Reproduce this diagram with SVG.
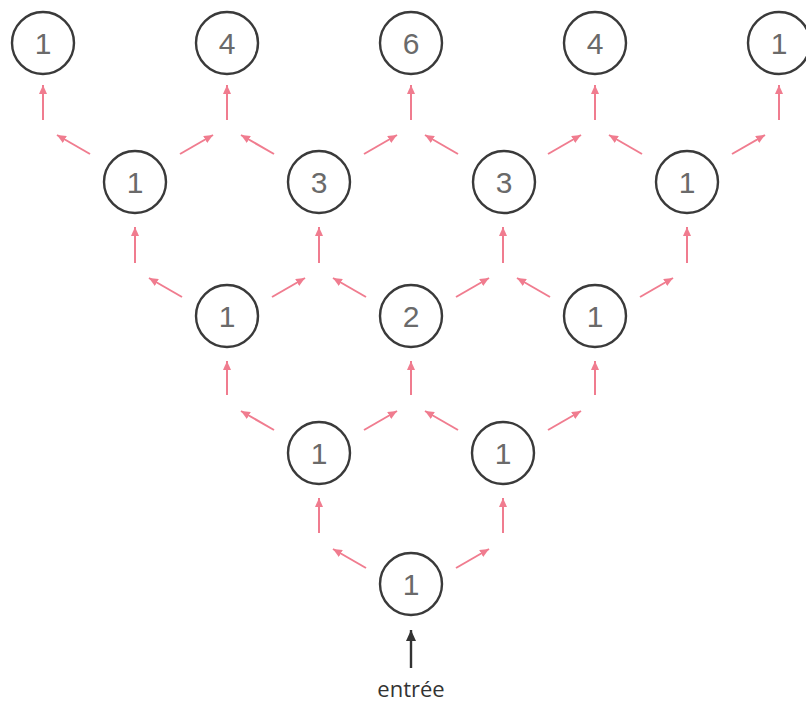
<svg xmlns="http://www.w3.org/2000/svg" width="806" height="705" viewBox="0 0 806 705">
  <defs>
    <marker id="headPink" markerUnits="userSpaceOnUse" markerWidth="10" markerHeight="8" refX="9" refY="4" orient="auto">
      <path d="M0,0 L9,4 L0,8 z" fill="#f07c8f"/>
    </marker>
    <marker id="headDark" markerUnits="userSpaceOnUse" markerWidth="12" markerHeight="10" refX="11" refY="5" orient="auto">
      <path d="M0,0 L11,5 L0,10 z" fill="#333"/>
    </marker>
  </defs>
  <style>
    .node circle { fill: #fff; stroke: #3a3a3a; stroke-width: 2.4; }
    .node text { font-family: "Liberation Sans", Arial, sans-serif; font-size: 30px; fill: #6a6a6a; text-anchor: middle; }
    .flow line { stroke: #f07c8f; stroke-width: 2; marker-end: url(#headPink); }
    .input line { stroke: #333; stroke-width: 2.4; marker-end: url(#headDark); }
    .caption { font-family: "Open Sans", "Noto Sans", sans-serif; font-size: 22px; fill: #333; text-anchor: middle; }
  </style>
  <rect width="806" height="705" fill="#fff"/>

  <!-- connectors: diagonal splits and vertical feeds -->
  <g id="connectors" class="flow">
    <!-- row 1 to row 0 -->
    <line x1="90" y1="154" x2="57" y2="135"/>
    <line x1="180" y1="154" x2="213" y2="135"/>
    <line x1="274" y1="154" x2="241" y2="135"/>
    <line x1="364" y1="154" x2="397" y2="135"/>
    <line x1="458" y1="154" x2="425" y2="135"/>
    <line x1="548" y1="154" x2="581" y2="135"/>
    <line x1="642" y1="154" x2="609" y2="135"/>
    <line x1="732" y1="154" x2="765" y2="135"/>
    <line x1="43" y1="120" x2="43" y2="85"/>
    <line x1="227" y1="120" x2="227" y2="85"/>
    <line x1="411" y1="120" x2="411" y2="85"/>
    <line x1="595" y1="120" x2="595" y2="85"/>
    <line x1="779" y1="120" x2="779" y2="85"/>
    <!-- row 2 to row 1 -->
    <line x1="182" y1="297" x2="149" y2="278"/>
    <line x1="272" y1="297" x2="305" y2="278"/>
    <line x1="366" y1="297" x2="333" y2="278"/>
    <line x1="456" y1="297" x2="489" y2="278"/>
    <line x1="550" y1="297" x2="517" y2="278"/>
    <line x1="640" y1="297" x2="673" y2="278"/>
    <line x1="135" y1="263" x2="135" y2="227"/>
    <line x1="319" y1="263" x2="319" y2="227"/>
    <line x1="503" y1="263" x2="503" y2="227"/>
    <line x1="687" y1="263" x2="687" y2="227"/>
    <!-- row 3 to row 2 -->
    <line x1="274" y1="430" x2="241" y2="411"/>
    <line x1="364" y1="430" x2="397" y2="411"/>
    <line x1="458" y1="430" x2="425" y2="411"/>
    <line x1="548" y1="430" x2="581" y2="411"/>
    <line x1="227" y1="395" x2="227" y2="361"/>
    <line x1="411" y1="395" x2="411" y2="361"/>
    <line x1="595" y1="395" x2="595" y2="361"/>
    <!-- row 4 to row 3 -->
    <line x1="366" y1="568" x2="333" y2="549"/>
    <line x1="456" y1="568" x2="489" y2="549"/>
    <line x1="319" y1="533" x2="319" y2="498"/>
    <line x1="503" y1="533" x2="503" y2="498"/>
  </g>

  <!-- input arrow -->
  <g id="input" class="input">
    <line x1="411" y1="668" x2="411" y2="630"/>
  </g>
  <text class="caption" x="411" y="697">entrée</text>

  <!-- row 0 -->
  <g id="n0_0" class="node"><circle cx="43" cy="43" r="31"/><text x="43" y="54">1</text></g>
  <g id="n0_1" class="node"><circle cx="227" cy="43" r="31"/><text x="227" y="54">4</text></g>
  <g id="n0_2" class="node"><circle cx="411" cy="43" r="31"/><text x="411" y="54">6</text></g>
  <g id="n0_3" class="node"><circle cx="595" cy="43" r="31"/><text x="595" y="54">4</text></g>
  <g id="n0_4" class="node"><circle cx="779" cy="43" r="31"/><text x="779" y="54">1</text></g>
  <!-- row 1 -->
  <g id="n1_0" class="node"><circle cx="135" cy="182" r="31"/><text x="135" y="193">1</text></g>
  <g id="n1_1" class="node"><circle cx="319" cy="182" r="31"/><text x="319" y="193">3</text></g>
  <g id="n1_2" class="node"><circle cx="504" cy="182" r="31"/><text x="504" y="193">3</text></g>
  <g id="n1_3" class="node"><circle cx="687" cy="182" r="31"/><text x="687" y="193">1</text></g>
  <!-- row 2 -->
  <g id="n2_0" class="node"><circle cx="227" cy="316" r="31"/><text x="227" y="327">1</text></g>
  <g id="n2_1" class="node"><circle cx="411" cy="316" r="31"/><text x="411" y="327">2</text></g>
  <g id="n2_2" class="node"><circle cx="595" cy="316" r="31"/><text x="595" y="327">1</text></g>
  <!-- row 3 -->
  <g id="n3_0" class="node"><circle cx="319" cy="453" r="31"/><text x="319" y="464">1</text></g>
  <g id="n3_1" class="node"><circle cx="503" cy="453" r="31"/><text x="503" y="464">1</text></g>
  <!-- row 4 -->
  <g id="n4_0" class="node"><circle cx="411" cy="584" r="31"/><text x="411" y="595">1</text></g>
</svg>
